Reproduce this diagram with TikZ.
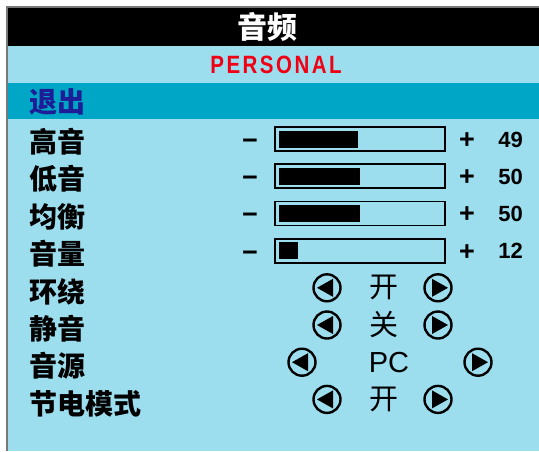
\documentclass[tikz,border=0pt]{standalone}
\usepackage{fontspec}
\setmainfont{Liberation Sans}
\newfontfamily\cjk{Noto Sans CJK SC}
\usetikzlibrary{positioning}
\definecolor{osdsky}{RGB}{156,221,238}
\definecolor{osdcyan}{RGB}{0,166,198}
\definecolor{osdnavy}{RGB}{30,28,150}
\definecolor{osdred}{RGB}{240,0,20}
\definecolor{osdframe}{RGB}{120,120,120}

\begin{document}
\begin{tikzpicture}[x=1pt, y=-1pt, inner sep=0pt,
  item/.style={anchor=west, font=\cjk\bfseries\fontsize{28}{28}\selectfont},
  sign/.style={anchor=base, font=\bfseries\fontsize{27}{27}\selectfont},
  number/.style={anchor=base east, font=\bfseries\fontsize{22}{22}\selectfont},
  choice/.style={font=\cjk\fontsize{29}{29}\selectfont},
  knob/.style={draw, circle, line width=2.4pt, minimum size=27pt}]
  \useasboundingbox (0,0) rectangle (539,451);
  % panel bands
  \fill[osdsky] (7,7) rectangle (539,451);
  \fill[black] (7,7) rectangle (539,46);
  \fill[osdcyan] (7,83) rectangle (539,119);
  \draw[osdframe, line width=1.5pt] (7,451) -- (7,7) -- (539,7);
  \node[text=white, font=\cjk\bfseries\fontsize{30}{30}\selectfont] (title) at (267,27) {音频};
  \node[text=osdred, font=\bfseries\fontsize{25}{25}\selectfont\addfontfeature{LetterSpace=12}] (mode) at (276,65) {\scalebox{0.82}[1]{PERSONAL}};
  \node[item, text=osdnavy] (exit) at (29,102) {退出};
  % slider rows
  \foreach \i/\lab/\v in {0/高音/49, 1/低音/50, 2/均衡/50, 3/音量/12} {
    \pgfmathsetmacro{\y}{139+37.2*\i}
    \node[item] (lab\i) at (29,\y+3) {\lab};
    \node[sign] (minus\i) at (250,\y+10.5) {−};
    \draw[line width=1.8pt] (275,\y-12) rectangle (445,\y+12);
    \fill (279,\y-8.5) rectangle ({279+1.62*\v},\y+8.5);
    \node[sign] (plus\i) at (467,\y+9.5) {+};
    \node[number] (val\i) at (523,\y+8) {\v};
  }
  % choice rows
  \foreach \i/\lab/\val/\xl/\xm/\xr in {4/环绕/开/327/384/438, 5/静音/关/327/384/438,
      6/音源/{\rmfamily PC}/302/389/478, 7/节电模式/开/327/384/438} {
    \pgfmathsetmacro{\y}{139+37.2*\i}
    \node[item] (lab\i) at (29,\y+4) {\lab};
    \node[knob] (left\i) at (\xl,\y) {};
    \fill (left\i.center) ++(-10,0) -- ++(16,-9) -- ++(0,18) -- cycle;
    \node[choice] (set\i) at (\xm,\y) {\val};
    \node[knob] (right\i) at (\xr,\y) {};
    \fill (right\i.center) ++(10,0) -- ++(-16,-9) -- ++(0,18) -- cycle;
  }
\end{tikzpicture}
\end{document}
